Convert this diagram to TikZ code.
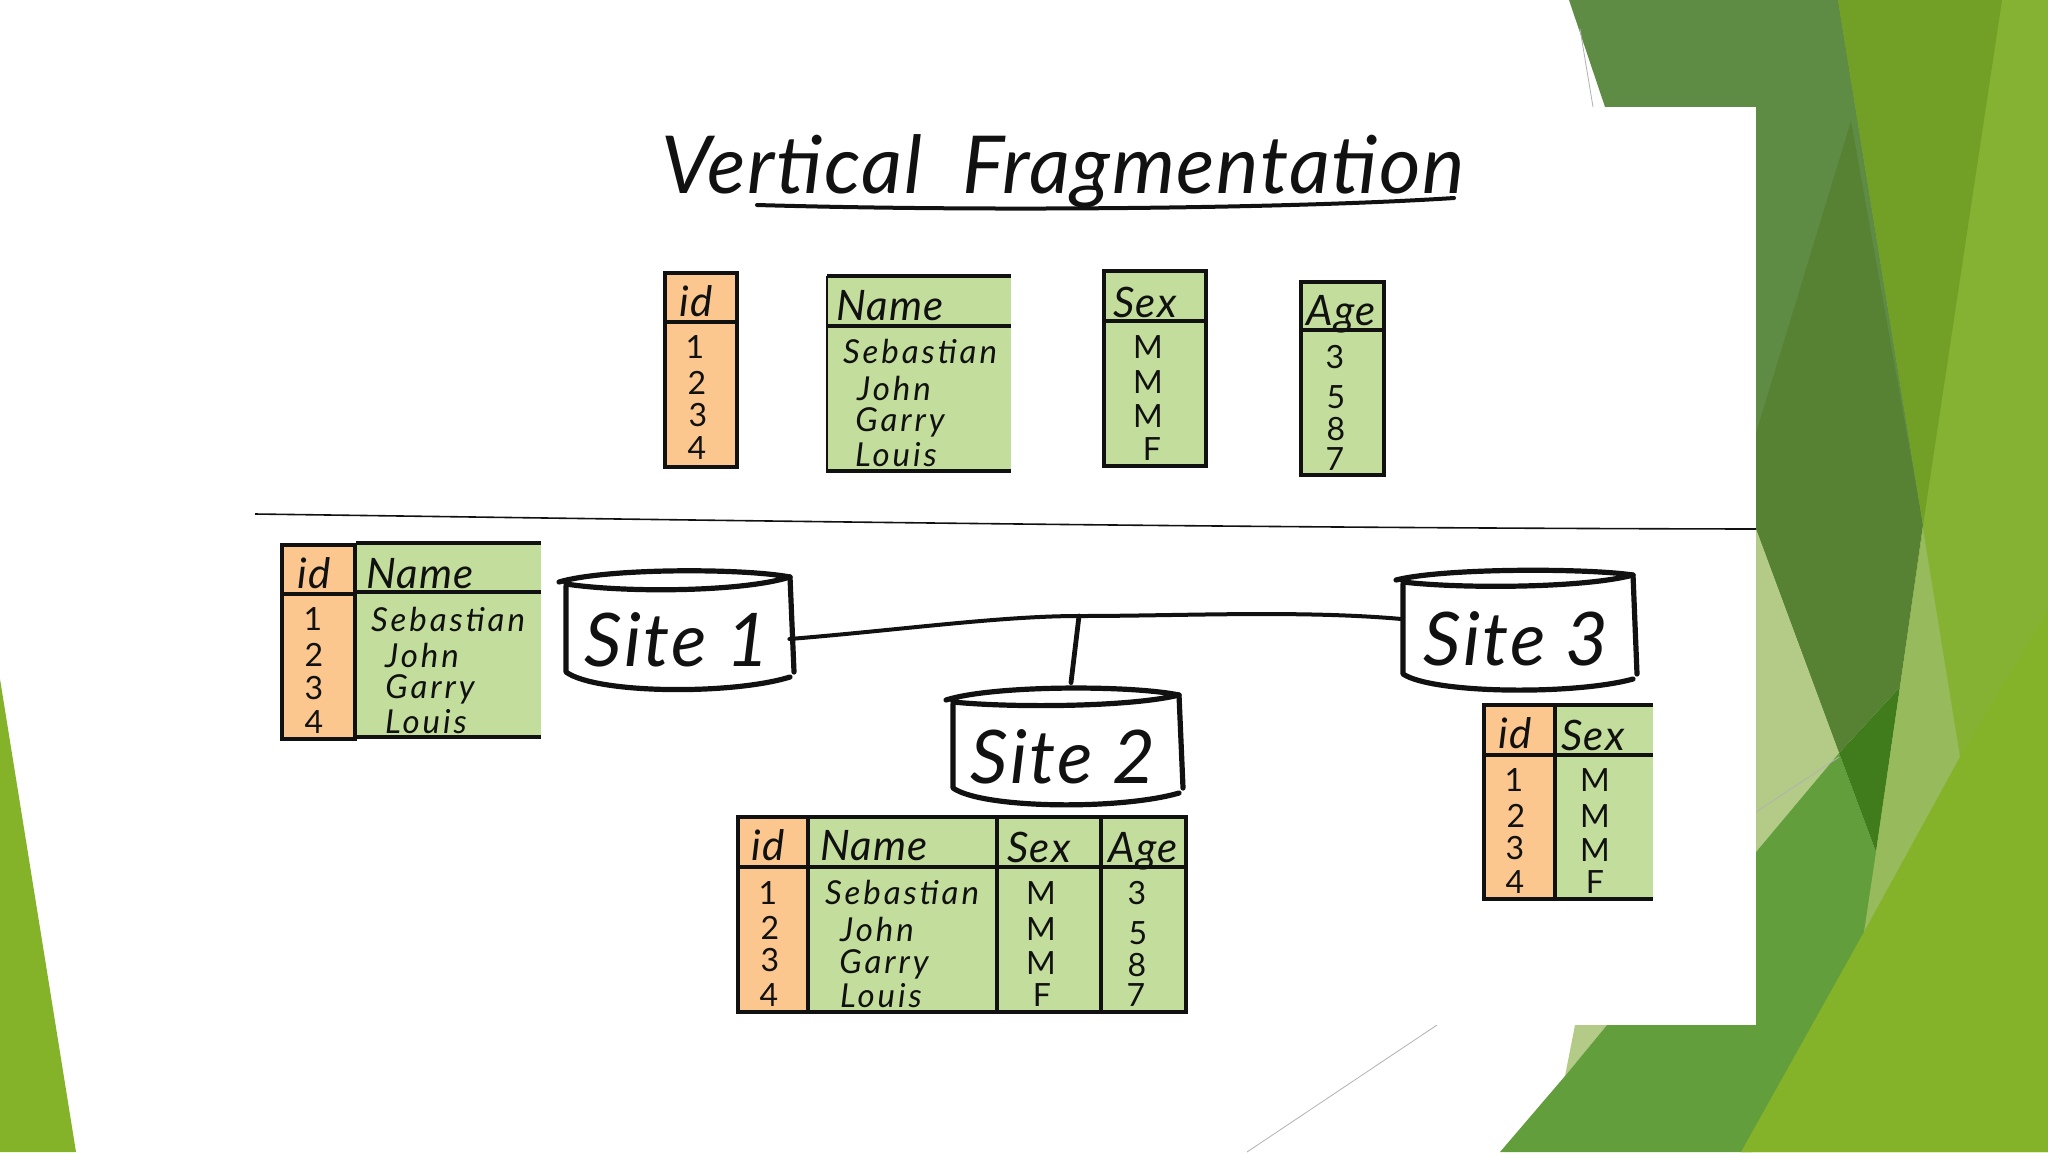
\documentclass[tikz,border=0pt]{standalone}
\usepackage{fontspec}
\setmainfont{Lato}
\definecolor{cOr}{HTML}{FBC78F}
\definecolor{cGr}{HTML}{C3DE9C}
\definecolor{gA}{HTML}{5F8C45}
\definecolor{gB}{HTML}{578233}
\definecolor{gC}{HTML}{72A027}
\definecolor{gD}{HTML}{86B233}
\definecolor{gE}{HTML}{84B229}
\definecolor{gF}{HTML}{629E3B}
\definecolor{gG}{HTML}{B3CB87}
\definecolor{gH}{HTML}{417C1C}
\definecolor{gI}{HTML}{96BA5C}
\definecolor{ink}{HTML}{111111}
\tikzset{
  x=0.5pt,y=-0.5pt,
  rule/.style={draw=ink,line width=1.7pt},
  thin rule/.style={draw=ink,line width=0.9pt},
  cyl/.style={draw=ink,line width=2.6pt,line cap=round,line join=round},
  conn/.style={draw=ink,line width=2pt,line cap=round},
  cell/.style={inner sep=0pt,text=ink,font=\fontsize{16.5}{16}\selectfont\itshape\addfontfeatures{LetterSpace=9}},
  glyphcell/.style={inner sep=0pt,text=ink,font=\fontsize{16}{16}\selectfont},
  cellbig/.style={inner sep=0pt,text=ink,font=\fontsize{21}{20}\selectfont\itshape\addfontfeatures{LetterSpace=3}},
  sitelabel/.style={inner sep=0pt,text=ink,font=\fontsize{37}{37}\selectfont\itshape\addfontfeatures{LetterSpace=3},minimum width=114pt,minimum height=70pt},
  hair/.style={draw=gray!60,line width=0.4pt},
}
% name, x, y, text
\newcommand{\tcl}[4]{\node[cell] (#1) at (#2,#3) {#4};}
\newcommand{\tgl}[4]{\node[glyphcell] (#1) at (#2,#3) {#4};}
\newcommand{\thd}[4]{\node[cellbig] (#1) at (#2,#3) {#4};}
% x left, x right, top of ellipse, tip y, ellipse bottom, side end, lowest
\newcommand{\cylshape}[7]{%
  \draw[cyl] (#1-7,#4) .. controls (#1+40,#3) and (#2-50,#3) .. (#2-2,#4-5)
     .. controls (#2-50,#5+2) and (#1+60,#5+3) .. (#1,#4+2);
  \draw[cyl] (#1,#4+4) -- (#1,#6-5) .. controls (#1+30,#7+2) and (#2-60,#7+3) .. (#2-2,#6);
  \draw[cyl] (#2-2,#4-5) -- (#2+2,#6-5);
}
\begin{document}
\begin{tikzpicture}
\useasboundingbox (0,0) rectangle (2048,1152);
\fill[white] (0,0) rectangle (2048,1152);
% ---- background facets
\fill[gD] (1830,0) -- (2048,0) -- (2048,1152) -- (1741,1152) -- (1864,932) -- (1900,687) -- (1923,525) -- cycle;
\fill[gA] (1569,0) -- (1838,0) -- (1923,525) -- (1839,753) -- (1756,529) -- (1605,107) -- cycle;
\fill[gB] (1851,121) -- (1923,525) -- (1900,687) -- (1839,753) -- (1756,529) -- (1756,433) -- cycle;
\fill[gC] (1838,0) -- (2002,0) -- (1923,525) -- cycle;
\fill[gG] (1756,529) -- (1839,753) -- (1756,852) -- cycle;
\fill[gG] (1575,1025) -- (1607,1025) -- (1565,1076) -- cycle;
\fill[gF] (1756,852) -- (1839,753) -- (1876,852) -- (1872,929) -- (1752,1152) -- (1500,1152) -- (1565,1076) -- (1607,1025) -- (1756,1025) -- cycle;
\fill[gH] (1839,753) -- (1900,687) -- (1876,852) -- cycle;
\fill[gI] (1923,529) -- (1960,757) -- (1870,932) -- (1864,932) -- (1876,852) -- (1900,687) -- cycle;
\fill[gE] (2048,610) -- (1960,757) -- (1864,932) -- (1741,1152) -- (2048,1152) -- cycle;
\fill[gE] (0,679) -- (76,1152) -- (0,1152) -- cycle;
\draw[hair] (1580,29) -- (1593,107);
\draw[hair] (1437,1025) -- (1247,1152);
\draw[hair] (1756,812) -- (1839,757);
% white slide panel
\fill[white] (260,107) rectangle (1756,1025);
% ---- title
\node[anchor=base,inner sep=0pt,text=ink,font=\fontsize{40}{40}\selectfont\itshape\addfontfeatures{LetterSpace=2}] (title) at (1063,193) {Vertical\hspace{0.5em}Fragmentation};
\draw[ink,line width=2pt,line cap=round] (757,205) .. controls (1000,212) and (1300,208) .. (1454,198);
% ---- rule across the slide
\draw[ink,line width=0.8pt] (255,514) .. controls (700,520) and (1200,528) .. (1756,529);
% ---- upper tables
\fill[cOr] (665,273) rectangle (737,467);
\draw[rule] (665,273) rectangle (737,467); \draw[rule] (665,322) -- (737,322);
\fill[cGr] (827,276) rectangle (1011,471);
\draw[rule] (827,276) -- (1011,276); \draw[rule] (827,326) -- (1011,326); \draw[rule] (827,471) -- (1011,471);
\draw[thin rule] (827,276) -- (827,473);
\fill[cGr] (1104,271) rectangle (1206,466);
\draw[rule] (1104,271) rectangle (1206,466); \draw[rule] (1104,321) -- (1206,321);
\fill[cGr] (1301,282) rectangle (1384,475);
\draw[rule] (1301,282) rectangle (1384,475); \draw[rule] (1301,330) -- (1384,330);
\thd{aid}{696}{301}{id}
\tgl{a1}{695}{347}{1}\tgl{a2}{697}{383}{2}\tgl{a3}{698}{415}{3}\tgl{a4}{697}{448}{4}
\thd{aname}{890}{306}{Name}
\tcl{as}{920}{351}{Sebastian}\tcl{aj}{894}{388}{John}\tcl{ag}{900}{422}{Garry}\tcl{al}{896}{455}{Louis}
\thd{asex}{1145}{302}{Sex}
\tgl{am1}{1148}{347}{M}\tgl{am2}{1148}{382}{M}\tgl{am3}{1148}{416}{M}\tgl{af}{1152}{449}{F}
\thd{aage}{1341}{314}{Age}
\tgl{a3y}{1335}{357}{3}\tgl{a5y}{1336}{397}{5}\tgl{a8y}{1336}{429}{8}\tgl{a7y}{1335}{459}{7}
% ---- site 1 table
\fill[cOr] (282,545) rectangle (355,739);
\fill[cGr] (356,543) rectangle (541,737);
\draw[rule] (282,545) rectangle (355,739); \draw[rule] (282,594) -- (355,594);
\draw[rule] (356,543) -- (541,543); \draw[rule] (356,592) -- (541,592); \draw[rule] (356,737) -- (541,737);
\thd{bid}{314}{573}{id}
\tgl{b1}{313}{619}{1}\tgl{b2}{314}{655}{2}\tgl{b3}{314}{688}{3}\tgl{b4}{314}{722}{4}
\thd{bname}{420}{574}{Name}
\tcl{bs}{448}{619}{Sebastian}\tcl{bj}{422}{655}{John}\tcl{bg}{430}{689}{Garry}\tcl{bl}{426}{722}{Louis}
% ---- site 2 table
\fill[cOr] (738,817) rectangle (808,1012);
\fill[cGr] (808,817) rectangle (1186,1012);
\draw[rule] (738,817) rectangle (1186,1012);
\draw[rule] (738,867) -- (1186,867);
\draw[rule] (808,817) -- (808,1012); \draw[rule] (997,817) -- (997,1012); \draw[rule] (1101,817) -- (1101,1012);
\thd{cid}{768}{845}{id}
\tgl{c1}{768}{893}{1}\tgl{c2}{770}{928}{2}\tgl{c3}{770}{960}{3}\tgl{c4}{769}{995}{4}
\thd{cname}{874}{846}{Name}
\tcl{cs}{902}{892}{Sebastian}\tcl{cj}{877}{929}{John}\tcl{cg}{884}{964}{Garry}\tcl{cl}{881}{996}{Louis}
\thd{csex}{1039}{847}{Sex}
\tgl{cm1}{1041}{893}{M}\tgl{cm2}{1041}{929}{M}\tgl{cm3}{1041}{963}{M}\tgl{cf}{1042}{995}{F}
\thd{cage}{1143}{851}{Age}
\tgl{c3y}{1137}{893}{3}\tgl{c5y}{1138}{933}{5}\tgl{c8y}{1137}{965}{8}\tgl{c7y}{1136}{995}{7}
% ---- site 3 table
\fill[cOr] (1484,705) rectangle (1555,899);
\fill[cGr] (1555,705) rectangle (1653,899);
\draw[rule] (1653,705) -- (1484,705) -- (1484,899) -- (1653,899);
\draw[rule] (1484,755) -- (1653,755); \draw[rule] (1555,705) -- (1555,899);
\thd{did}{1515}{733}{id}
\tgl{d1}{1514}{780}{1}\tgl{d2}{1516}{816}{2}\tgl{d3}{1515}{848}{3}\tgl{d4}{1515}{882}{4}
\thd{dsex}{1593}{735}{Sex}
\tgl{dm1}{1595}{780}{M}\tgl{dm2}{1595}{816}{M}\tgl{dm3}{1595}{850}{M}\tgl{df}{1595}{882}{F}
% ---- sites
\cylshape{566}{792}{568}{582}{590}{677}{692}
\cylshape{953}{1181}{685}{700}{705}{793}{807}
\cylshape{1403}{1635}{568}{580}{586}{679}{692}
\node[sitelabel] (site1) at (677,640) {Site 1};
\node[sitelabel] (site2) at (1063,757) {Site 2};
\node[sitelabel] (site3) at (1516,639) {Site 3};
\coordinate (junction) at (1079,616);
\draw[conn] ([xshift=-1pt,yshift=0.5pt]site1.east) .. controls (900,630) and (1000,616) .. (junction) .. controls (1180,616) and (1300,610) .. ([yshift=10pt]site3.west);
\draw[conn,line width=2.4pt] (junction) -- ([xshift=4pt,yshift=2pt]site2.north);
\end{tikzpicture}
\end{document}
